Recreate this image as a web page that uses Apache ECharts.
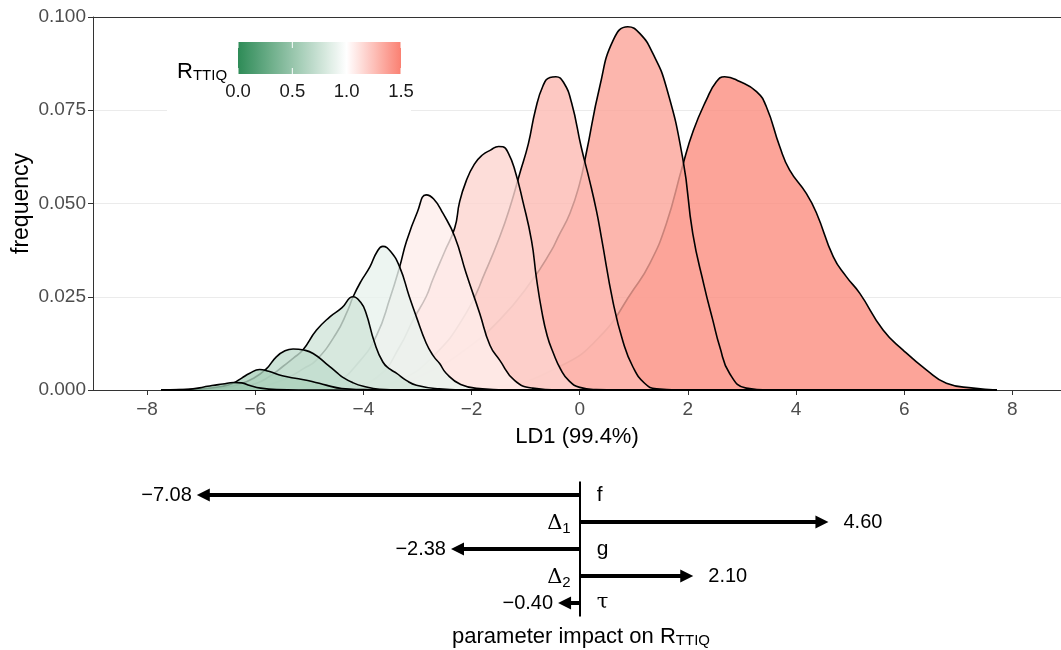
<!DOCTYPE html>
<html><head><meta charset="utf-8">
<script src="https://cdn.jsdelivr.net/npm/echarts@6/dist/echarts.min.js"></script>
<style>html,body{margin:0;padding:0;background:#fff}#c{width:1061px;height:650px}</style>
</head><body><div id="c"></div>
<script>
// ---------- data ----------
const xTicks = [-8, -6, -4, -2, 0, 2, 4, 6, 8];
const yTicks = [0, 0.025, 0.05, 0.075, 0.1];
const legendTicks = [0, 0.5, 1.0, 1.5];
const rValues = [0.52, 0.6, 0.7, 0.78, 0.89, 1.07, 1.17, 1.27, 1.36, 1.45];

const d1 = [[-7.74,0],[-7.4,0.0001],[-7.15,0.0003],[-6.95,0.0008],[-6.8,0.0012],[-6.6,0.0016],[-6.4,0.002],[-6.25,0.0019],[-6.1,0.0012],[-5.9,0.0005],[-5.6,0.0001],[-5.2,0],[7.71,0]];
const d2 = [[-7.74,0],[-7.2,0.0001],[-6.9,0.0004],[-6.6,0.001],[-6.4,0.0019],[-6.25,0.0032],[-6.1,0.0045],[-5.92,0.0055],[-5.75,0.005],[-5.5,0.0038],[-5.2,0.003],[-4.95,0.0023],[-4.69,0.0013],[-4.4,0.0004],[-4.0,0.0001],[-3.6,0],[7.71,0]];
const d3 = [[-7.74,0],[-7.0,0.0001],[-6.6,0.0006],[-6.3,0.0015],[-6.05,0.003],[-5.8,0.0056],[-5.61,0.0089],[-5.45,0.0105],[-5.3,0.011],[-5.1,0.0107],[-4.93,0.0098],[-4.69,0.0071],[-4.5,0.0048],[-4.38,0.0034],[-4.2,0.002],[-4.0,0.001],[-3.7,0.0002],[-3.3,0],[7.71,0]];
const d4 = [[-7.74,0],[-6.8,0.0001],[-6.4,0.0005],[-6.0,0.0017],[-5.75,0.0035],[-5.49,0.0063],[-5.3,0.0085],[-5.12,0.0107],[-4.87,0.016],[-4.62,0.0196],[-4.4,0.022],[-4.19,0.025],[-4.05,0.0235],[-3.95,0.0206],[-3.8,0.013],[-3.64,0.0075],[-3.5,0.0055],[-3.39,0.0045],[-3.2,0.0025],[-3.02,0.0013],[-2.6,0.0003],[-2.2,0],[7.71,0]];
const d5 = [[-7.74,0],[-6.6,0.0001],[-6.1,0.0005],[-5.49,0.0027],[-5.1,0.0058],[-4.87,0.008],[-4.5,0.0152],[-4.3,0.021],[-4.19,0.025],[-4.05,0.029],[-3.88,0.033],[-3.75,0.037],[-3.64,0.0385],[-3.5,0.0372],[-3.33,0.033],[-3.15,0.025],[-3.02,0.0196],[-2.84,0.0126],[-2.7,0.009],[-2.59,0.0071],[-2.47,0.0045],[-2.2,0.0015],[-1.8,0.0003],[-1.4,0],[7.71,0]];
const d6 = [[-7.74,0],[-5.6,0.0001],[-5.1,0.0004],[-4.8,0.0009],[-4.5,0.002],[-4.1,0.0072],[-3.76,0.0145],[-3.5,0.025],[-3.33,0.033],[-3.2,0.040],[-3.0,0.0478],[-2.84,0.0523],[-2.7,0.0512],[-2.53,0.0474],[-2.31,0.0411],[-2.1,0.0313],[-1.85,0.0206],[-1.66,0.012],[-1.48,0.008],[-1.2,0.0025],[-0.87,0.0005],[-0.4,0],[7.71,0]];
const d7 = [[-7.74,0],[-4.8,0.0002],[-4.2,0.001],[-3.7,0.004],[-3.33,0.0116],[-3.08,0.0188],[-2.84,0.025],[-2.72,0.0295],[-2.5,0.037],[-2.31,0.0435],[-2.22,0.0505],[-2.1,0.056],[-1.95,0.0605],[-1.8,0.063],[-1.65,0.0643],[-1.5,0.0653],[-1.42,0.0652],[-1.32,0.0635],[-1.2,0.059],[-1.05,0.0505],[-0.89,0.040],[-0.8,0.030],[-0.7,0.021],[-0.6,0.0145],[-0.49,0.010],[-0.35,0.0055],[-0.2,0.0025],[0,0.0007],[0.3,0.0001],[0.7,0],[7.71,0]];
const d8 = [[-7.74,0],[-4.6,0.0001],[-4.0,0.0005],[-3.33,0.0027],[-2.72,0.0089],[-2.1,0.0206],[-1.73,0.0322],[-1.48,0.041],[-1.29,0.049],[-1.11,0.058],[-0.95,0.066],[-0.82,0.075],[-0.68,0.0815],[-0.55,0.0838],[-0.44,0.084],[-0.3,0.0825],[-0.15,0.077],[0.03,0.065],[0.185,0.056],[0.31,0.048],[0.40,0.041],[0.62,0.0233],[0.8,0.013],[0.98,0.0063],[1.2,0.0018],[1.42,0.0003],[1.8,0],[7.71,0]];
const d9 = [[-7.74,0],[-4.5,0.0001],[-4.0,0.0005],[-3.33,0.002],[-2.72,0.0054],[-2.1,0.011],[-1.48,0.0188],[-0.9,0.029],[-0.52,0.0375],[-0.4,0.041],[-0.18,0.0474],[0,0.0554],[0.12,0.0634],[0.37,0.0813],[0.62,0.0938],[0.89,0.0974],[1.11,0.0956],[1.35,0.0903],[1.6,0.0813],[1.91,0.0617],[2.09,0.042],[2.3,0.028],[2.46,0.0188],[2.59,0.0116],[2.77,0.0045],[3.08,0.0005],[3.5,0],[7.71,0]];
const d10 = [[-7.74,0],[-2.5,0.0001],[-1.48,0.001],[-0.37,0.0063],[0.37,0.0143],[0.99,0.0268],[1.3,0.034],[1.6,0.0445],[1.9,0.060],[2.1,0.0695],[2.34,0.0777],[2.53,0.0827],[2.68,0.084],[2.96,0.0827],[3.27,0.08],[3.45,0.076],[3.7,0.0652],[3.88,0.059],[4.19,0.0527],[4.38,0.0474],[4.69,0.0357],[4.93,0.0304],[5.18,0.0259],[5.61,0.0161],[5.98,0.0107],[6.41,0.0054],[6.78,0.0018],[7.28,0.0005],[7.71,0]];
const densities = [d1, d2, d3, d4, d5, d6, d7, d8, d9, d10];

const paramBase = ['f', 'Δ', 'g', 'Δ', 'τ'];
const paramSub = ['', '1', '', '2', ''];
const impacts = [-7.08, 4.60, -2.38, 2.10, -0.40];

// ---------- styling helpers ----------
const FONT = "'Liberation Sans', Arial, sans-serif";
const SERIF = "'DejaVu Serif', 'Liberation Serif', serif";
const LOW = [46, 139, 87], MID = [255, 255, 255], HIGH = [250, 128, 114];
function colourFor(r) {
  let a, b, t;
  if (r <= 1) { a = LOW; b = MID; t = r; } else { a = MID; b = HIGH; t = (r - 1) / 0.5; }
  t = Math.max(0, Math.min(1, t));
  const c = a.map((v, i) => Math.round(v + (b[i] - v) * t));
  return 'rgb(' + c.join(',') + ')';
}
const minus = v => String(v).replace('-', '\u2212');

const chart = echarts.init(document.getElementById('c'), null, {renderer: 'canvas'});

const densitySeries = [];
for (let i = densities.length - 1; i >= 0; i--) {
  densitySeries.push({
    type: 'line', xAxisIndex: 0, yAxisIndex: 0, data: densities[i],
    z: 3 + (densities.length - i), zlevel: 0,
    smooth: 0.5, showSymbol: false, silent: true,
    lineStyle: {color: '#000', width: 1.6},
    areaStyle: {color: colourFor(rValues[i]), opacity: 0.8, origin: 'start'}
  });
}

// legend graphic
const LB = {x: 238, y: 42, w: 163, h: 32, min: 0, max: 1.5};
const stops = [];
for (let k = 0; k <= 30; k++) {
  const r = LB.min + (LB.max - LB.min) * k / 30;
  stops.push({offset: k / 30, color: colourFor(r)});
}
const legendEls = [
  {type: 'rect', shape: {x: 167, y: 28, width: 244, height: 85}, style: {fill: '#fff'}, z: 30},
  {type: 'rect', shape: {x: LB.x, y: LB.y, width: LB.w, height: LB.h},
   style: {fill: new echarts.graphic.LinearGradient(0, 0, 1, 0, stops)}, z: 31},
  {type: 'text', x: 177, y: 72, z: 32,
   style: {text: '{r|R}{s|TTIQ}', verticalAlign: 'middle', fill: '#000',
     rich: {r: {fontSize: 22, fontFamily: FONT, fill: '#000'},
            s: {fontSize: 15, fontFamily: FONT, fill: '#000', padding: [8, 0, 0, 0]}}}}
];
legendTicks.forEach(v => {
  const x = LB.x + (v - LB.min) / (LB.max - LB.min) * LB.w;
  legendEls.push({type: 'line', shape: {x1: x, y1: LB.y, x2: x, y2: LB.y + 6}, style: {stroke: '#fff', lineWidth: 1}, z: 32});
  legendEls.push({type: 'line', shape: {x1: x, y1: LB.y + LB.h - 6, x2: x, y2: LB.y + LB.h}, style: {stroke: '#fff', lineWidth: 1}, z: 32});
  legendEls.push({type: 'text', x: x, y: 92, z: 32,
    style: {text: v.toFixed(1), align: 'center', verticalAlign: 'middle', fontSize: 18.5, fontFamily: FONT, fill: '#1a1a1a'}});
});
legendEls.push({type: 'text', x: 581, y: 637, z: 32,
  style: {text: '{a|parameter impact on }{r|R}{s|TTIQ}', align: 'center', verticalAlign: 'middle',
    rich: {a: {fontSize: 22, fontFamily: FONT, fill: '#000'}, r: {fontSize: 22, fontFamily: FONT, fill: '#000'},
           s: {fontSize: 15, fontFamily: FONT, fill: '#000', padding: [8, 0, 0, 0]}}}});

const option = {
  animation: false,
  backgroundColor: '#fff',
  grid: [
    {left: 93, top: 17, width: 968, height: 373, containLabel: false, outerBoundsMode: 'none'},
    {left: 93, top: 481.5, width: 968, height: 135, containLabel: false, outerBoundsMode: 'none'}
  ],
  xAxis: [
    {type: 'value', gridIndex: 0, min: -9.0, max: 8.9,
     name: 'LD1 (99.4%)', nameLocation: 'middle', nameGap: 36, nameMoveOverlap: false,
     nameTextStyle: {fontSize: 22, fontFamily: FONT, color: '#000'},
     axisLine: {onZero: false, lineStyle: {color: '#333', width: 1}},
     axisTick: {customValues: xTicks, length: 5, lineStyle: {color: '#333'}},
     axisLabel: {customValues: xTicks, formatter: v => minus(v), fontSize: 19, fontFamily: FONT, color: '#4d4d4d', margin: 10},
     splitLine: {show: false}},
    {type: 'value', gridIndex: 1, min: -9.0, max: 8.9, show: false},
    {type: 'value', gridIndex: 0, min: -9.0, max: 8.9, position: 'top',
     axisLine: {show: true, onZero: false, lineStyle: {color: '#333', width: 1}},
     axisTick: {show: false}, axisLabel: {show: false}, splitLine: {show: false}}
  ],
  yAxis: [
    {type: 'value', gridIndex: 0, min: 0, max: 0.1, interval: 0.025,
     name: 'frequency', nameLocation: 'middle', nameGap: 60, nameRotate: 90, nameMoveOverlap: false,
     nameTextStyle: {fontSize: 23, fontFamily: FONT, color: '#000'},
     axisLine: {show: true, onZero: false, lineStyle: {color: '#333', width: 1}},
     axisTick: {show: true, length: 5, lineStyle: {color: '#333'}},
     axisLabel: {formatter: v => v.toFixed(3), fontSize: 19, fontFamily: FONT, color: '#4d4d4d', margin: 7},
     splitLine: {show: true, lineStyle: {color: '#ebebeb', width: 1}}},
    {type: 'category', gridIndex: 1, data: paramBase.map((b, i) => b + paramSub[i]), inverse: true, show: false}
  ],
  graphic: legendEls,
  series: densitySeries.concat([{
    type: 'custom', xAxisIndex: 1, yAxisIndex: 1, silent: true, z: 20,
    data: impacts.map((v, i) => [v, i]),
    markLine: {silent: true, symbol: ['none', 'none'], label: {show: false},
      lineStyle: {color: '#000', width: 2, type: 'solid'}, data: [{xAxis: 0}]},
    renderItem: function (params, api) {
      const v = api.value(0), idx = api.value(1);
      const p0 = api.coord([0, idx]);
      const p1 = api.coord([v, idx]);
      const dir = v < 0 ? -1 : 1;
      const head = 13, hw = 6.5;
      const base = p1[0] - dir * head;
      const isGreek = /[Δτ]/.test(paramBase[idx]);
      const labelText = '{b|' + paramBase[idx] + '}' + (paramSub[idx] ? '{s|' + paramSub[idx] + '}' : '');
      return {type: 'group', children: [
        {type: 'line', shape: {x1: p0[0], y1: p0[1], x2: base + dir * 1, y2: p1[1]}, style: {stroke: '#000', lineWidth: 4}},
        {type: 'polygon', shape: {points: [[p1[0], p1[1]], [base, p1[1] - hw], [base, p1[1] + hw]]}, style: {fill: '#000'}},
        {type: 'text', style: {text: minus(v.toFixed(2)), x: v < 0 ? p1[0] - 5 : p1[0] + 15, y: p1[1],
          align: v < 0 ? 'right' : 'left', verticalAlign: 'middle', fontSize: 20, fontFamily: FONT, fill: '#000'}},
        {type: 'text', style: {text: labelText, x: v < 0 ? p0[0] + 17 : p0[0] - 9, y: p1[1] + (paramSub[idx] ? 2 : 0),
          align: v < 0 ? 'left' : 'right', verticalAlign: 'middle',
          rich: {b: {fontSize: 21, fontFamily: isGreek ? SERIF : FONT, fill: '#000'},
                 s: {fontSize: 15, fontFamily: FONT, fill: '#000', padding: [9, 0, 0, 0]}}}}
      ]};
    }
  }])
};
chart.setOption(option);
</script>
</body></html>
